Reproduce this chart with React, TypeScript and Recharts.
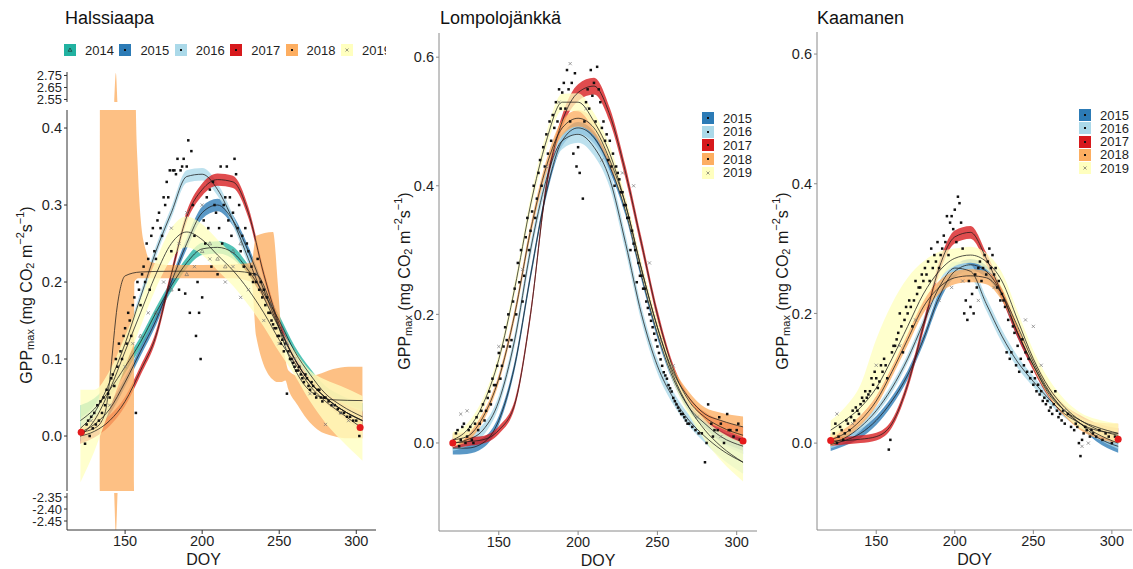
import { ComposedChart, Area, Line, Scatter, XAxis, YAxis } from "recharts"

const FONT = "Arial, 'Liberation Sans', Helvetica, sans-serif"

const YEAR_COLORS: Record<number, string> = {
  2014: "#22b2a1",
  2015: "#2c7bb6",
  2016: "#abd9e9",
  2017: "#d7191c",
  2018: "#fdae61",
  2019: "#ffffbf",
}

// day-of-year grid the fitted curves are read on
const DOY = [121, 130, 140, 150, 160, 170, 180, 190, 200, 210, 220, 230, 240, 250, 260, 270, 280, 290, 304]
const X_TICKS = [150, 200, 250, 300]
const X_DOMAIN: [number, number] = [112.3, 312.8]

// ---------- Halssiaapa ----------
const HAL_2014 = [0.02, 0.035, 0.06, 0.09, 0.122, 0.16, 0.195, 0.225, 0.243, 0.245, 0.238, 0.215, 0.185, 0.15, 0.11, 0.08, 0.055, 0.04, 0.025]
const HAL_2014_HW = [0.02, 0.014, 0.01, 0.008, 0.007, 0.007, 0.007, 0.007, 0.008, 0.008, 0.008, 0.007, 0.007, 0.007, 0.007, 0.008, 0.01, 0.013, 0.018]
const HAL_2015 = [0.005, 0.015, 0.035, 0.07, 0.11, 0.15, 0.2, 0.25, 0.29, 0.3, 0.28, 0.24, 0.19, 0.14, 0.1, 0.07, 0.05, 0.035, 0.02]
const HAL_2015_HW = [0.012, 0.009, 0.007, 0.006, 0.006, 0.006, 0.006, 0.007, 0.008, 0.008, 0.007, 0.006, 0.006, 0.006, 0.006, 0.006, 0.007, 0.009, 0.013]
const HAL_2016 = [0.01, 0.03, 0.07, 0.12, 0.18, 0.24, 0.29, 0.337, 0.34, 0.32, 0.28, 0.23, 0.18, 0.14, 0.1, 0.07, 0.05, 0.035, 0.02]
const HAL_2016_HW = [0.014, 0.01, 0.008, 0.007, 0.007, 0.007, 0.007, 0.008, 0.008, 0.008, 0.007, 0.007, 0.006, 0.006, 0.006, 0.007, 0.008, 0.01, 0.014]
const HAL_2017 = [0.0, 0.006, 0.02, 0.045, 0.085, 0.13, 0.21, 0.285, 0.32, 0.333, 0.33, 0.29, 0.21, 0.145, 0.1, 0.07, 0.05, 0.035, 0.02]
const HAL_2017_HW = [0.01, 0.008, 0.007, 0.006, 0.006, 0.006, 0.006, 0.007, 0.008, 0.008, 0.008, 0.007, 0.006, 0.006, 0.006, 0.006, 0.007, 0.009, 0.012]
const HAL_2019 = [0.0, 0.02, 0.06, 0.11, 0.16, 0.21, 0.25, 0.265, 0.255, 0.235, 0.215, 0.19, 0.16, 0.125, 0.095, 0.065, 0.045, 0.03, 0.01]
const HAL_2019_HW = [0.06, 0.04, 0.025, 0.02, 0.018, 0.018, 0.02, 0.02, 0.02, 0.02, 0.02, 0.02, 0.018, 0.016, 0.016, 0.02, 0.028, 0.035, 0.042]

// 2018 at Halssiaapa has its own grid (flat plateau + exploding ribbon)
const HAL18_DOY = [121, 130, 135, 138, 140, 145, 150, 160, 180, 200, 220, 235, 245, 255, 265, 275, 285, 304]
const HAL18_FIT = [0.005, 0.01, 0.02, 0.04, 0.073, 0.17, 0.208, 0.213, 0.214, 0.214, 0.214, 0.21, 0.17, 0.11, 0.07, 0.052, 0.047, 0.046]
const HAL18_BAND_DOY = [121, 130, 133.5, 134, 142.5, 144, 145.5, 155, 156, 157, 158.3, 160.2, 163.4, 166.6, 180, 200, 220, 232, 235, 246, 249, 251.5, 254, 256, 262, 268, 275, 285, 295, 304]
const HAL18_LO = [0.0, 0.005, 0.01, -2.3, -2.3, -2.5, -2.3, -2.3, 0.2, 0.203, 0.205, 0.205, 0.205, 0.205, 0.205, 0.205, 0.205, 0.2, 0.13, 0.073, 0.07, 0.07, 0.072, 0.06, 0.04, 0.022, 0.008, 0.0, -0.003, -0.003]
const HAL18_HI = [0.012, 0.025, 0.035, 2.45, 2.45, 2.77, 2.45, 2.45, 2.45, 0.423, 0.345, 0.28, 0.242, 0.226, 0.222, 0.222, 0.223, 0.225, 0.26, 0.265, 0.2, 0.134, 0.1, 0.085, 0.078, 0.077, 0.08, 0.087, 0.09, 0.09]

const HAL_PTS = [
  [123, 0.005], [124, -0.01], [125, 0.015], [126, 0.02], [127, 0.0], [128, 0.025], [129, 0.01], [130, 0.03], [131, 0.015], [132, 0.04],
  [133, 0.02], [134, 0.045], [135, 0.03], [136, 0.05], [137, 0.04], [138, 0.06], [139, 0.055], [140, 0.05], [141, 0.075], [142, 0.08],
  [143, 0.065], [144, 0.1], [145, 0.09], [146, 0.12], [147, 0.11], [148, 0.1], [149, 0.13], [150, 0.14], [151, 0.12], [152, 0.16],
  [153, 0.15], [154, 0.13], [155, 0.17], [156, 0.18], [157, 0.03], [158, 0.2], [159, 0.19], [160, 0.17], [161, 0.21], [162, 0.22],
  [163, 0.2], [164, 0.25], [165, 0.23], [166, 0.19], [167, 0.26], [168, 0.27], [169, 0.24], [170, 0.23], [171, 0.28], [172, 0.29],
  [173, 0.27], [174, 0.26], [175, 0.31], [176, 0.3], [177, 0.33], [178, 0.31], [179, 0.345], [180, 0.24], [181, 0.345], [182, 0.345],
  [183, 0.34], [184, 0.36], [185, 0.19], [186, 0.345], [187, 0.35], [188, 0.36], [189, 0.185], [190, 0.35], [191, 0.384], [192, 0.16],
  [193, 0.37], [194, 0.3], [195, 0.26], [196, 0.13], [197, 0.2], [198, 0.16], [199, 0.1], [200, 0.18], [201, 0.28], [202, 0.25],
  [203, 0.31], [204, 0.27], [205, 0.32], [206, 0.22], [207, 0.33], [208, 0.3], [209, 0.29], [210, 0.21], [211, 0.27], [212, 0.35],
  [213, 0.25], [214, 0.3], [215, 0.31], [216, 0.35], [217, 0.28], [218, 0.31], [219, 0.26], [220, 0.29], [221, 0.36], [222, 0.34],
  [223, 0.27], [224, 0.3], [225, 0.24], [226, 0.26], [227, 0.22], [228, 0.27], [229, 0.25], [230, 0.24], [231, 0.21], [232, 0.22],
  [233, 0.2], [234, 0.21], [235, 0.2], [236, 0.23], [237, 0.19], [238, 0.2], [239, 0.18], [240, 0.19], [241, 0.17], [242, 0.18],
  [243, 0.16], [244, 0.16], [245, 0.15], [246, 0.145], [247, 0.14], [248, 0.14], [249, 0.13], [250, 0.13], [251, 0.12], [252, 0.125],
  [253, 0.11], [254, 0.12], [255, 0.055], [256, 0.11], [257, 0.1], [258, 0.1], [259, 0.095], [260, 0.09], [261, 0.085], [262, 0.085],
  [263, 0.09], [264, 0.08], [265, 0.075], [266, 0.07], [267, 0.08], [268, 0.075], [269, 0.065], [270, 0.06], [271, 0.07], [272, 0.065],
  [273, 0.055], [274, 0.05], [275, 0.06], [276, 0.06], [277, 0.05], [278, 0.045], [279, 0.05], [280, 0.05], [282, 0.045], [284, 0.04],
  [286, 0.04], [288, 0.035], [290, 0.03], [292, 0.03], [294, 0.025], [296, 0.025], [298, 0.02], [300, 0.02], [302, 0.0],
]
const HAL_CROSS = [
  [128, 0.02], [140, 0.04], [150, 0.09], [155, 0.12], [165, 0.16], [175, 0.2], [180, 0.27], [185, 0.25], [190, 0.29], [195, 0.22],
  [200, 0.3], [205, 0.23], [215, 0.2], [220, 0.22], [225, 0.18], [230, 0.19], [240, 0.15], [250, 0.12], [260, 0.1], [270, 0.055],
  [280, 0.015], [285, 0.04], [290, 0.03], [295, 0.02],
]
const HAL_TRI = [
  [160, 0.13], [170, 0.16], [180, 0.19], [190, 0.21], [200, 0.24], [205, 0.25], [210, 0.23], [215, 0.22], [220, 0.24], [225, 0.25],
  [235, 0.21], [245, 0.17], [255, 0.12],
]
const HAL_ENDS = [[121.5, 0.005], [302.5, 0.011]]

// ---------- Lompolojänkkä ----------
const LOM_2015 = [-0.008, -0.008, 0.0, 0.035, 0.12, 0.26, 0.39, 0.47, 0.49, 0.475, 0.43, 0.36, 0.26, 0.17, 0.1, 0.055, 0.03, 0.01, -0.005]
const LOM_2015_HW = [0.01, 0.009, 0.008, 0.007, 0.007, 0.007, 0.007, 0.008, 0.009, 0.009, 0.008, 0.007, 0.007, 0.007, 0.006, 0.006, 0.007, 0.009, 0.012]
const LOM_2016 = [0.0, 0.005, 0.02, 0.065, 0.16, 0.3, 0.41, 0.47, 0.48, 0.46, 0.41, 0.31, 0.2, 0.12, 0.07, 0.035, 0.01, -0.01, -0.03]
const LOM_2016_HW = [0.012, 0.01, 0.009, 0.009, 0.01, 0.011, 0.012, 0.013, 0.013, 0.013, 0.013, 0.013, 0.012, 0.011, 0.01, 0.009, 0.01, 0.013, 0.018]
const LOM_2017 = [0.0, 0.002, 0.005, 0.02, 0.06, 0.2, 0.4, 0.5, 0.545, 0.555, 0.51, 0.42, 0.31, 0.2, 0.115, 0.065, 0.04, 0.025, 0.012]
const LOM_2017_HW = [0.008, 0.007, 0.006, 0.006, 0.006, 0.007, 0.008, 0.01, 0.013, 0.013, 0.011, 0.01, 0.009, 0.008, 0.007, 0.007, 0.008, 0.01, 0.013]
const LOM_2018 = [0.005, 0.01, 0.04, 0.1, 0.2, 0.33, 0.43, 0.49, 0.505, 0.49, 0.44, 0.37, 0.27, 0.18, 0.11, 0.07, 0.045, 0.035, 0.025]
const LOM_2018_HW = [0.01, 0.008, 0.007, 0.007, 0.008, 0.009, 0.01, 0.012, 0.013, 0.012, 0.01, 0.009, 0.008, 0.008, 0.008, 0.009, 0.01, 0.012, 0.016]
const LOM_2019 = [0.005, 0.02, 0.06, 0.13, 0.24, 0.37, 0.47, 0.53, 0.53, 0.5, 0.45, 0.37, 0.27, 0.18, 0.105, 0.055, 0.02, -0.005, -0.03]
const LOM_2019_HW = [0.012, 0.01, 0.009, 0.009, 0.01, 0.011, 0.012, 0.013, 0.014, 0.013, 0.012, 0.011, 0.01, 0.01, 0.01, 0.012, 0.016, 0.022, 0.03]

const LOM_PTS = [
  [122, 0.0], [123, 0.015], [124, 0.02], [125, -0.005], [126, 0.005], [127, 0.025], [128, 0.03], [129, 0.0], [130, 0.01], [131, 0.02],
  [132, 0.025], [133, 0.005], [134, 0.0], [135, 0.03], [136, 0.04], [137, 0.02], [138, 0.03], [139, 0.05], [140, 0.06], [141, 0.035],
  [142, 0.05], [143, 0.07], [144, 0.08], [145, 0.06], [146, 0.1], [147, 0.09], [148, 0.09], [149, 0.12], [150, 0.14], [151, 0.1],
  [152, 0.12], [153, 0.15], [154, 0.18], [155, 0.16], [156, 0.2], [157, 0.15], [158, 0.16], [159, 0.22], [160, 0.24], [161, 0.2],
  [162, 0.28], [163, 0.25], [164, 0.3], [165, 0.22], [166, 0.26], [167, 0.32], [168, 0.35], [169, 0.3], [170, 0.33], [171, 0.36],
  [172, 0.4], [173, 0.35], [174, 0.38], [175, 0.42], [176, 0.44], [177, 0.4], [178, 0.46], [179, 0.43], [180, 0.48], [181, 0.45],
  [182, 0.5], [183, 0.47], [184, 0.51], [185, 0.49], [186, 0.53], [187, 0.5], [188, 0.55], [189, 0.52], [190, 0.545], [191, 0.56],
  [192, 0.52], [193, 0.58], [194, 0.55], [195, 0.5], [196, 0.56], [197, 0.45], [198, 0.575], [199, 0.43], [200, 0.46], [201, 0.42],
  [203, 0.38], [204, 0.5], [205, 0.53], [206, 0.55], [207, 0.52], [208, 0.58], [209, 0.54], [210, 0.56], [211, 0.5], [212, 0.585],
  [213, 0.55], [214, 0.53], [215, 0.49], [216, 0.5], [217, 0.47], [218, 0.48], [219, 0.44], [220, 0.47], [221, 0.43], [222, 0.45],
  [223, 0.4], [224, 0.43], [225, 0.42], [226, 0.41], [227, 0.39], [228, 0.39], [229, 0.37], [230, 0.37], [231, 0.35], [232, 0.35],
  [233, 0.3], [234, 0.33], [235, 0.31], [236, 0.3], [237, 0.25], [238, 0.28], [239, 0.26], [240, 0.26], [241, 0.24], [242, 0.24],
  [243, 0.22], [244, 0.21], [245, 0.2], [246, 0.19], [247, 0.18], [248, 0.17], [249, 0.16], [250, 0.15], [251, 0.14], [252, 0.13],
  [253, 0.12], [254, 0.11], [255, 0.105], [256, 0.1], [257, 0.09], [258, 0.085], [259, 0.08], [260, 0.07], [261, 0.065], [262, 0.06],
  [263, 0.055], [264, 0.05], [265, 0.045], [266, 0.045], [267, 0.04], [268, 0.035], [269, 0.03], [270, 0.03], [272, 0.025], [274, 0.02],
  [276, 0.015], [278, 0.015], [280, -0.03], [281, 0.0], [282, 0.06], [284, 0.03], [285, 0.01], [286, 0.02], [288, 0.02], [289, 0.04],
  [290, 0.03], [292, 0.0], [294, 0.045], [295, 0.02], [296, 0.02], [298, 0.01], [300, 0.02], [301, 0.03], [302, 0.005],
]
const LOM_CROSS = [
  [126, 0.045], [130, 0.05], [150, 0.15], [165, 0.27], [180, 0.43], [188, 0.53], [195, 0.59], [205, 0.52], [215, 0.44], [228, 0.42],
  [235, 0.4], [245, 0.28], [252, 0.16], [260, 0.12], [275, 0.04], [290, 0.01],
]
const LOM_ENDS = [[121, 0.0], [304, 0.003]]

// ---------- Kaamanen ----------
const KAA_2015 = [-0.002, 0.004, 0.015, 0.035, 0.065, 0.105, 0.16, 0.225, 0.265, 0.275, 0.265, 0.23, 0.17, 0.12, 0.075, 0.05, 0.03, 0.01, -0.005]
const KAA_2015_HW = [0.01, 0.008, 0.007, 0.007, 0.007, 0.007, 0.007, 0.008, 0.009, 0.009, 0.009, 0.008, 0.007, 0.006, 0.006, 0.006, 0.006, 0.007, 0.01]
const KAA_2016 = [0.0, 0.008, 0.025, 0.05, 0.085, 0.13, 0.185, 0.24, 0.27, 0.265, 0.215, 0.165, 0.125, 0.095, 0.068, 0.045, 0.03, 0.015, 0.0]
const KAA_2016_HW = [0.008, 0.007, 0.006, 0.006, 0.007, 0.007, 0.008, 0.009, 0.01, 0.01, 0.01, 0.01, 0.009, 0.008, 0.007, 0.006, 0.006, 0.007, 0.009]
const KAA_2017 = [0.003, 0.004, 0.006, 0.01, 0.03, 0.09, 0.18, 0.27, 0.318, 0.325, 0.285, 0.23, 0.17, 0.12, 0.078, 0.05, 0.035, 0.022, 0.012]
const KAA_2017_HW = [0.007, 0.006, 0.006, 0.006, 0.006, 0.007, 0.008, 0.009, 0.01, 0.01, 0.009, 0.008, 0.008, 0.008, 0.008, 0.008, 0.008, 0.009, 0.011]
const KAA_2018 = [0.005, 0.015, 0.035, 0.065, 0.11, 0.16, 0.21, 0.24, 0.255, 0.258, 0.255, 0.23, 0.18, 0.125, 0.08, 0.05, 0.03, 0.02, 0.015]
const KAA_2018_HW = [0.01, 0.008, 0.008, 0.008, 0.008, 0.009, 0.01, 0.01, 0.01, 0.01, 0.01, 0.01, 0.009, 0.009, 0.009, 0.009, 0.01, 0.012, 0.015]
const KAA_2019 = [0.02, 0.035, 0.055, 0.085, 0.13, 0.18, 0.23, 0.265, 0.285, 0.29, 0.28, 0.25, 0.19, 0.13, 0.085, 0.055, 0.035, 0.025, 0.015]
const KAA_2019_HW = [0.015, 0.013, 0.012, 0.012, 0.012, 0.012, 0.012, 0.012, 0.012, 0.012, 0.012, 0.012, 0.012, 0.012, 0.012, 0.012, 0.012, 0.012, 0.015]
const KAA_2019_UP = [0.035, 0.055, 0.09, 0.16, 0.215, 0.255, 0.28, 0.295, 0.3, 0.303, 0.293, 0.263, 0.203, 0.143, 0.098, 0.067, 0.047, 0.037, 0.03]

const KAA_PTS = [
  [122, 0.005], [123, 0.015], [124, 0.03], [125, 0.0], [126, 0.01], [127, 0.025], [128, 0.02], [129, 0.005], [130, 0.015], [131, 0.035],
  [132, 0.03], [133, 0.02], [134, 0.04], [135, 0.05], [136, 0.035], [137, 0.055], [138, 0.05], [139, 0.045], [140, 0.06], [141, 0.07],
  [142, 0.065], [143, 0.08], [144, 0.07], [145, 0.075], [146, 0.08], [147, 0.1], [148, 0.09], [149, 0.11], [150, 0.1], [151, 0.085],
  [152, 0.095], [153, 0.12], [154, 0.11], [155, 0.13], [156, 0.12], [157, 0.1], [158, -0.01], [159, 0.005], [160, 0.14], [161, 0.15],
  [162, 0.15], [163, 0.16], [164, 0.17], [165, 0.2], [166, 0.18], [167, 0.14], [168, 0.19], [169, 0.21], [170, 0.2], [171, 0.22],
  [172, 0.21], [173, 0.18], [174, 0.22], [175, 0.25], [176, 0.23], [177, 0.24], [178, 0.24], [179, 0.26], [180, 0.25], [181, 0.27],
  [182, 0.26], [183, 0.28], [184, 0.25], [185, 0.3], [186, 0.27], [187, 0.29], [188, 0.28], [189, 0.31], [190, 0.27], [191, 0.29],
  [192, 0.3], [193, 0.32], [194, 0.31], [195, 0.35], [196, 0.29], [197, 0.34], [198, 0.35], [199, 0.33], [200, 0.36], [201, 0.31],
  [202, 0.38], [203, 0.37], [204, 0.34], [205, 0.3], [206, 0.2], [207, 0.22], [208, 0.19], [209, 0.25], [210, 0.21], [211, 0.23],
  [212, 0.2], [213, 0.26], [214, 0.24], [215, 0.27], [216, 0.28], [217, 0.25], [218, 0.27], [219, 0.29], [220, 0.26], [221, 0.28],
  [222, 0.3], [223, 0.27], [224, 0.29], [225, 0.26], [226, 0.27], [227, 0.24], [228, 0.25], [229, 0.22], [230, 0.23], [231, 0.22],
  [232, 0.21], [233, 0.14], [234, 0.19], [235, 0.13], [236, 0.14], [237, 0.18], [238, 0.17], [239, 0.12], [240, 0.15], [241, 0.11],
  [242, 0.13], [243, 0.16], [244, 0.12], [245, 0.14], [246, 0.11], [247, 0.13], [248, 0.1], [249, 0.11], [250, 0.09], [251, 0.1],
  [252, 0.08], [253, 0.09], [254, 0.075], [255, 0.08], [256, 0.065], [257, 0.07], [258, 0.06], [259, 0.065], [260, 0.05], [261, 0.055],
  [262, 0.045], [263, 0.06], [264, 0.08], [265, 0.05], [266, 0.04], [267, 0.045], [268, 0.035], [269, 0.05], [270, 0.03], [272, 0.045],
  [274, 0.025], [276, 0.02], [277, 0.03], [278, 0.025], [279, 0.0], [280, -0.02], [281, 0.005], [282, 0.015], [283, 0.025], [284, 0.02],
  [286, 0.01], [287, 0.02], [288, 0.015], [290, 0.01], [292, 0.02], [294, 0.005], [296, 0.015], [298, 0.01], [300, 0.0], [302, 0.01],
]
const KAA_CROSS = [
  [125, 0.045], [135, 0.03], [150, 0.12], [165, 0.15], [175, 0.19], [190, 0.22], [198, 0.24], [205, 0.25], [215, 0.22], [225, 0.24],
  [235, 0.2], [245, 0.19], [250, 0.18], [255, 0.12], [270, 0.05], [281, -0.005], [285, 0.0],
]
const KAA_ENDS = [[121, 0.004], [304, 0.006]]

// ---------- build helpers ----------
type Row = { doy: number; fit?: number; band?: [number, number] }
type Curve = { year: number; line: Row[]; band: Row[] }

function makeCurve(year: number, fit: number[], hw: number[], up?: number[]): Curve {
  const rows: Row[] = DOY.map((d, i) => ({
    doy: d,
    fit: fit[i],
    band: [fit[i] - hw[i], up ? up[i] : fit[i] + hw[i]],
  }))
  return { year, line: rows, band: rows }
}

const toPts = (arr: number[][]) => arr.map(([doy, v]) => ({ doy, v }))

const hal2018: Curve = {
  year: 2018,
  line: HAL18_DOY.map((d, i) => ({ doy: d, fit: HAL18_FIT[i] })),
  band: HAL18_BAND_DOY.map((d, i) => ({ doy: d, band: [HAL18_LO[i], HAL18_HI[i]] as [number, number] })),
}

const HAL_CURVES = [
  makeCurve(2014, HAL_2014, HAL_2014_HW),
  makeCurve(2015, HAL_2015, HAL_2015_HW),
  makeCurve(2016, HAL_2016, HAL_2016_HW),
  makeCurve(2017, HAL_2017, HAL_2017_HW),
  hal2018,
  makeCurve(2019, HAL_2019, HAL_2019_HW),
]
const LOM_CURVES = [
  makeCurve(2015, LOM_2015, LOM_2015_HW),
  makeCurve(2016, LOM_2016, LOM_2016_HW),
  makeCurve(2017, LOM_2017, LOM_2017_HW),
  makeCurve(2018, LOM_2018, LOM_2018_HW),
  makeCurve(2019, LOM_2019, LOM_2019_HW),
]
const KAA_CURVES = [
  makeCurve(2015, KAA_2015, KAA_2015_HW),
  makeCurve(2016, KAA_2016, KAA_2016_HW),
  makeCurve(2017, KAA_2017, KAA_2017_HW),
  makeCurve(2018, KAA_2018, KAA_2018_HW),
  makeCurve(2019, KAA_2019, KAA_2019_HW, KAA_2019_UP),
]

// ---------- marks ----------
const dotShape = (p: any) => <rect x={p.cx - 1.25} y={p.cy - 1.25} width={2.5} height={2.5} fill="#111" />
const crossShape = (p: any) => (
  <path
    d={`M${p.cx - 1.6},${p.cy - 1.6}L${p.cx + 1.6},${p.cy + 1.6}M${p.cx - 1.6},${p.cy + 1.6}L${p.cx + 1.6},${p.cy - 1.6}`}
    stroke="#777"
    strokeWidth={0.7}
  />
)
const triShape = (p: any) => (
  <path d={`M${p.cx},${p.cy - 1.9}L${p.cx + 1.8},${p.cy + 1.3}L${p.cx - 1.8},${p.cy + 1.3}Z`} fill="none" stroke="#666" strokeWidth={0.6} />
)
const endShape = (p: any) => <circle cx={p.cx} cy={p.cy} r={3.5} fill="#e41a1c" />

function GppLabel({ cx, cy }: { cx: number; cy: number }) {
  return (
    <text
      x={cx}
      y={cy}
      transform={`rotate(-90 ${cx} ${cy})`}
      textAnchor="middle"
      dominantBaseline="central"
      fontSize={16}
      fontFamily={FONT}
      fill="#1a1a1a"
    >
      GPP<tspan dy={4} fontSize={11}>max</tspan>
      <tspan dy={-4}> (mg CO</tspan>
      <tspan dy={4} fontSize={11}>2</tspan>
      <tspan dy={-4}> m</tspan>
      <tspan dy={-6} fontSize={11}>−2</tspan>
      <tspan dy={6}>s</tspan>
      <tspan dy={-6} fontSize={11}>−1</tspan>
      <tspan dy={6}>)</tspan>
    </text>
  )
}

function DoyLabel({ cx, cy }: { cx: number; cy: number }) {
  return (
    <text x={cx} y={cy} textAnchor="middle" fontSize={16} fontFamily={FONT} fill="#1a1a1a">
      DOY
    </text>
  )
}

const YW = 60
const MT = 8
const MR = 2
const MB = 7
const XH = 42

type SubPlotProps = {
  plotLeft: number
  plotTop: number
  plotW: number
  plotH: number
  yDomain: [number, number]
  yTicks: number[]
  yDigits: number
  tickSize?: number
  axisColor: string
  curves: Curve[]
  lines?: boolean
  pts?: number[][]
  cross?: number[][]
  tri?: number[][]
  ends?: number[][]
  showX?: boolean
  doyShift?: number
  yLabel?: { x: number; y: number }
}

function SubPlot(props: SubPlotProps) {
  const { plotLeft, plotTop, plotW, plotH, yDomain, yTicks, yDigits, axisColor, curves } = props
  const left = plotLeft - YW
  const top = plotTop - MT
  const width = YW + plotW + MR
  const mb = props.showX ? 0 : MB
  const height = MT + plotH + (props.showX ? XH : mb)
  const tickFont = { fill: "#1f1f1f", fontSize: props.tickSize ?? 14.5, fontFamily: FONT }

  return (
    <div style={{ position: "absolute", left, top }}>
      <ComposedChart width={width} height={height} margin={{ top: MT, right: MR, bottom: mb, left: 0 }}>
        <XAxis
          type="number"
          dataKey="doy"
          domain={X_DOMAIN}
          ticks={X_TICKS}
          interval={0}
          allowDataOverflow
          hide={!props.showX}
          height={XH}
          tickSize={4}
          tickMargin={2}
          axisLine={{ stroke: axisColor }}
          tickLine={{ stroke: axisColor }}
          tick={{ ...tickFont, fontSize: 14.5 }}
          label={<DoyLabel cx={YW + plotW / 2 + (props.doyShift ?? 0)} cy={MT + plotH + 35} />}
        />
        <YAxis
          type="number"
          domain={yDomain}
          ticks={yTicks}
          interval={0}
          allowDataOverflow
          width={YW}
          tickSize={3}
          tickMargin={2}
          axisLine={{ stroke: axisColor }}
          tickLine={{ stroke: axisColor }}
          tick={tickFont}
          tickFormatter={(v: number) => v.toFixed(yDigits)}
          label={props.yLabel ? <GppLabel cx={props.yLabel.x - left} cy={props.yLabel.y - top} /> : undefined}
        />
        {curves.map((c) => (
          <Area
            key={`band-${c.year}`}
            data={c.band}
            dataKey="band"
            type="monotone"
            fill={YEAR_COLORS[c.year]}
            fillOpacity={0.78}
            stroke="none"
            dot={false}
            activeDot={false}
            isAnimationActive={false}
          />
        ))}
        {props.pts && (
          <Scatter data={toPts(props.pts)} dataKey="v" shape={dotShape} isAnimationActive={false} />
        )}
        {props.cross && (
          <Scatter data={toPts(props.cross)} dataKey="v" shape={crossShape} isAnimationActive={false} />
        )}
        {props.tri && <Scatter data={toPts(props.tri)} dataKey="v" shape={triShape} isAnimationActive={false} />}
        {props.lines &&
          curves.map((c) => (
            <Line
              key={`fit-${c.year}`}
              data={c.line}
              dataKey="fit"
              type="monotone"
              stroke="#1a1a1a"
              strokeWidth={0.75}
              dot={false}
              activeDot={false}
              isAnimationActive={false}
            />
          ))}
        {props.ends && <Scatter data={toPts(props.ends)} dataKey="v" shape={endShape} isAnimationActive={false} />}
      </ComposedChart>
    </div>
  )
}

function KeySquare({ year, size }: { year: number; size: number }) {
  const h = size / 2
  return (
    <svg width={size} height={size} style={{ display: "block" }}>
      <rect width={size} height={size} fill={YEAR_COLORS[year]} />
      {year === 2014 ? (
        <path d={`M${h},${h - 2}L${h + 1.8},${h + 1.3}L${h - 1.8},${h + 1.3}Z`} fill="none" stroke="#222" strokeWidth={0.6} />
      ) : year === 2019 ? (
        <path d={`M${h - 1.5},${h - 1.5}L${h + 1.5},${h + 1.5}M${h - 1.5},${h + 1.5}L${h + 1.5},${h - 1.5}`} stroke="#555" strokeWidth={0.6} />
      ) : (
        <rect x={h - 1} y={h - 1} width={2} height={2} fill="#111" />
      )}
    </svg>
  )
}

const textStyle = { position: "absolute" as const, fontFamily: FONT, fontSize: 13, lineHeight: "13px", color: "#1f1f1f" }

function VerticalLegend({ years, left, top, pitch }: { years: number[]; left: number; top: number; pitch: number }) {
  return (
    <>
      {years.map((y, i) => (
        <div key={y}>
          <div style={{ position: "absolute", left, top: top + i * pitch - 6 }}>
            <KeySquare year={y} size={12} />
          </div>
          <div style={{ ...textStyle, left: left + 21, top: top + i * pitch - 6.5 }}>{y}</div>
        </div>
      ))}
    </>
  )
}

const HAL_YEARS = [2014, 2015, 2016, 2017, 2018, 2019]
const OTHER_YEARS = [2015, 2016, 2017, 2018, 2019]

export default function App() {
  const title = { position: "absolute" as const, fontFamily: FONT, fontSize: 18, lineHeight: "18px", color: "#111", top: 9 }
  return (
    <div style={{ position: "absolute", left: 0, top: 0, width: 1133, height: 569, background: "#fff", overflow: "hidden" }}>
      {/* Halssiaapa */}
      <div style={{ ...title, left: 65 }}>Halssiaapa</div>
      <div style={{ position: "absolute", left: 0, top: 0, width: 386, height: 70, overflow: "hidden" }}>
        {HAL_YEARS.map((y, i) => (
          <div key={y}>
            <div style={{ position: "absolute", left: 64 + i * 55.4, top: 44 }}>
              <KeySquare year={y} size={12} />
            </div>
            <div style={{ ...textStyle, left: 85 + i * 55.4, top: 43.5 }}>{y}</div>
          </div>
        ))}
      </div>
      <SubPlot
        plotLeft={67}
        plotTop={72}
        plotW={309}
        plotH={30}
        yDomain={[2.529, 2.779]}
        yTicks={[2.55, 2.65, 2.75]}
        yDigits={2}
        tickSize={13}
        axisColor="#333"
        curves={[hal2018]}
      />
      <SubPlot
        plotLeft={67}
        plotTop={110}
        plotW={309}
        plotH={381}
        yDomain={[-0.0714, 0.4234]}
        yTicks={[0, 0.1, 0.2, 0.3, 0.4]}
        yDigits={1}
        axisColor="#333"
        curves={HAL_CURVES}
        lines
        pts={HAL_PTS}
        cross={HAL_CROSS}
        tri={HAL_TRI}
        ends={HAL_ENDS}
        yLabel={{ x: 26, y: 295 }}
      />
      <SubPlot
        plotLeft={67}
        plotTop={493}
        plotW={309}
        plotH={37}
        yDomain={[-2.4875, -2.3333]}
        yTicks={[-2.45, -2.4, -2.35]}
        yDigits={2}
        tickSize={13}
        axisColor="#333"
        curves={[hal2018]}
        showX
        doyShift={-18}
      />

      {/* Lompolojänkkä */}
      <div style={{ ...title, left: 440 }}>Lompolojänkkä</div>
      <SubPlot
        plotLeft={439}
        plotTop={33}
        plotW={318}
        plotH={498}
        yDomain={[-0.1369, 0.6376]}
        yTicks={[0, 0.2, 0.4, 0.6]}
        yDigits={1}
        axisColor="#8a8a8a"
        curves={LOM_CURVES}
        lines
        pts={LOM_PTS}
        cross={LOM_CROSS}
        ends={LOM_ENDS}
        showX
        yLabel={{ x: 404, y: 281 }}
      />
      <VerticalLegend years={OTHER_YEARS} left={702} top={118} pitch={13.7} />

      {/* Kaamanen */}
      <div style={{ ...title, left: 817 }}>Kaamanen</div>
      <SubPlot
        plotLeft={817}
        plotTop={32}
        plotW={315}
        plotH={498}
        yDomain={[-0.134, 0.634]}
        yTicks={[0, 0.2, 0.4, 0.6]}
        yDigits={1}
        axisColor="#8a8a8a"
        curves={KAA_CURVES}
        lines
        pts={KAA_PTS}
        cross={KAA_CROSS}
        ends={KAA_ENDS}
        showX
        yLabel={{ x: 782, y: 281 }}
      />
      <VerticalLegend years={OTHER_YEARS} left={1079} top={115} pitch={13.3} />
    </div>
  )
}
